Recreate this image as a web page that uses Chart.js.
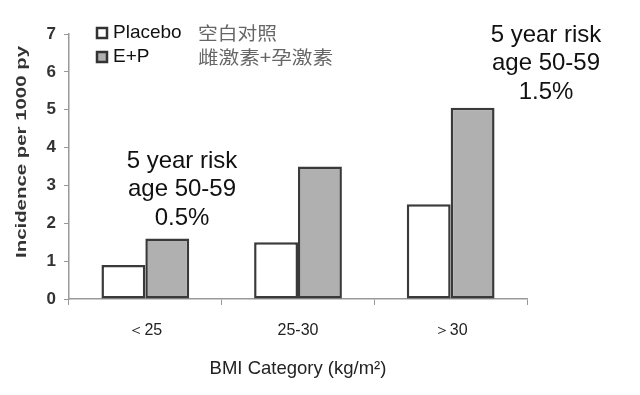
<!DOCTYPE html>
<html>
<head>
<meta charset="utf-8">
<script src="https://cdn.jsdelivr.net/npm/chart.js@4"></script>
<style>
  html, body { margin: 0; padding: 0; background: #fff; }
  #wrap { width: 640px; height: 395px; }
</style>
</head>
<body>
<div id="wrap"><canvas id="chart" width="640" height="395"></canvas></div>
<script>
const categories = ["＜25", "25-30", "＞30"];
const placebo = [0.9, 1.5, 2.5];
const estrogenProgestin = [1.6, 3.5, 5.05];
const yTicks = [0, 1, 2, 3, 4, 5, 6, 7];
const legendEn = ["Placebo", "E+P"];
const legendZh = ["空白对照", "雌激素+孕激素"];
const noteLines = [
  ["5 year risk", "age 50-59", "0.5%"],
  ["5 year risk", "age 50-59", "1.5%"]
];

const font = "Liberation Sans, Arial, sans-serif";

// draw text squeezed/stretched to a given width
function fitText(c, text, x, y, width) {
  const w = c.measureText(text).width;
  c.save();
  c.translate(x, y);
  c.scale(width / w, 1);
  c.fillText(text, 0, 0);
  c.restore();
}

const extras = {
  id: "extras",
  afterDraw(chart) {
    const c = chart.ctx;
    c.save();
    // legend
    const fills = ["#ffffff", "#b0b0b0"];
    const rows = [33, 57];
    const zhWidth = [79, 135];
    rows.forEach((y, i) => {
      c.fillStyle = fills[i];
      c.strokeStyle = "#333";
      c.lineWidth = 2.5;
      c.fillRect(97, y - 5, 10, 10);
      c.strokeRect(97, y - 5, 10, 10);
      c.fillStyle = "#111";
      c.font = "19px " + font;
      c.textBaseline = "middle";
      c.textAlign = "left";
      c.fillText(legendEn[i], 113, y);
      c.fillStyle = "#666";
      c.font = "18px 'Noto Sans CJK SC', sans-serif";
      fitText(c, legendZh[i], 198, y, zhWidth[i]);
    });
    // y title
    c.fillStyle = "#333";
    c.font = "bold 15px " + font;
    c.textAlign = "center";
    c.textBaseline = "middle";
    c.save();
    c.translate(22, 152);
    c.rotate(-Math.PI / 2);
    const t = "Incidence per 1000 py";
    const tw = c.measureText(t).width;
    c.scale(212 / tw, 1);
    c.fillText(t, 0, 0);
    c.restore();
    // notes
    c.fillStyle = "#111";
    c.font = "24px " + font;
    c.textAlign = "center";
    c.textBaseline = "middle";
    const pos = [{ x: 182, y: 161 }, { x: 546, y: 35 }];
    noteLines.forEach((lines, i) => {
      lines.forEach((s, j) => c.fillText(s, pos[i].x, pos[i].y + j * 28.5));
    });
    c.restore();
  }
};

new Chart(document.getElementById("chart"), {
  type: "bar",
  data: {
    labels: categories,
    datasets: [
      {
        label: "Placebo",
        data: placebo,
        backgroundColor: "#ffffff",
        borderColor: "#3a3a3a",
        borderWidth: 2.5,
        borderSkipped: false
      },
      {
        label: "E+P",
        data: estrogenProgestin,
        backgroundColor: "#b0b0b0",
        borderColor: "#3a3a3a",
        borderWidth: 2.5,
        borderSkipped: false
      }
    ]
  },
  options: {
    responsive: false,
    animation: false,
    layout: { padding: { top: 34, right: 113, left: 0, bottom: 0 } },
    plugins: { legend: { display: false }, tooltip: { enabled: false } },
    datasets: { bar: { categoryPercentage: 0.575, barPercentage: 1 } },
    scales: {
      x: {
        afterFit(s) { s.height = 96; },
        border: { color: "#999", width: 1.5 },
        grid: { drawOnChartArea: false, color: "#999", tickLength: 6, offset: true },
        ticks: { color: "#222", font: { family: font, size: 16 }, padding: 16 },
        title: {
          display: true,
          text: "BMI Category (kg/m²)",
          color: "#222",
          font: { family: font, size: 18.5 },
          padding: { top: 7, bottom: 15 }
        }
      },
      y: {
        min: 0,
        max: 7,
        afterFit(s) { s.width = 69; },
        afterBuildTicks(s) { s.ticks = yTicks.map(v => ({ value: v })); },
        border: { color: "#999", width: 1.5 },
        grid: { drawOnChartArea: false, color: "#999", tickLength: 5 },
        ticks: { color: "#333", font: { family: font, size: 17, weight: "bold" }, padding: 8 }
      }
    }
  },
  plugins: [extras]
});
</script>
</body>
</html>
